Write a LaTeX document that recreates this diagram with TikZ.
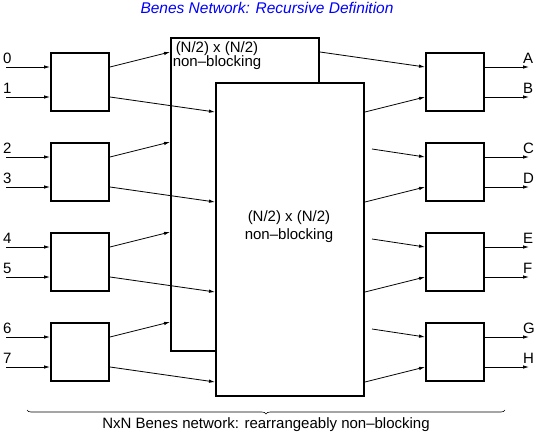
\documentclass[tikz,border=0pt]{standalone}
\usepackage{fontspec}
\setmainfont{Liberation Sans}
\usetikzlibrary{arrows.meta,decorations.pathreplacing,calc}
\begin{document}
\begin{tikzpicture}[x=1pt,y=-1pt,
  sw/.style={draw,line width=2pt,minimum width=58pt,minimum height=58pt,inner sep=0pt,anchor=north west,fill=white},
  big/.style={draw,line width=2pt,minimum width=148pt,minimum height=313pt,inner sep=0pt,anchor=north west,fill=white},
  conn/.style={line width=0.8pt,-{Latex[length=6pt,width=3.5pt]}},
  lbl/.style={font=\fontsize{15}{17}\selectfont,inner sep=0pt,anchor=base west},
  txt/.style={font=\fontsize{15}{17}\selectfont,inner sep=0pt,anchor=base}
]
\useasboundingbox (0,0) rectangle (535,434);
% title
\node[font=\fontsize{15.5}{18}\selectfont\itshape,text=blue,inner sep=0pt] (title) at (267,8) {Benes Network: Recursive Definition};
% back and front sub-networks
\node[big] (back) at (170,37) {};
\node[txt] (bt1) at (217,52) {(N/2) x (N/2)};
\node[txt] (bt2) at (217,66) {non\textendash blocking};
\node[big] (front) at (215,82) {};
\node[txt] (ft1) at (289,221) {(N/2) x (N/2)};
\node[txt] (ft2) at (289,239) {non\textendash blocking};
% switches
\foreach \i/\y in {1/52,2/142,3/232,4/322}{
  \node[sw] (L\i) at (50,\y) {};
  \node[sw] (R\i) at (425,\y) {};
}
% inputs
\foreach \i/\a/\b in {1/0/1,2/2/3,3/4/5,4/6/7}{
  \coordinate (ia\i) at ($(L\i.east)+(-104,-15)$);
  \coordinate (ib\i) at ($(L\i.east)+(-104,15)$);
  \draw[conn] (ia\i) -- ($(L\i.west)+(0,-15)$);
  \draw[conn] (ib\i) -- ($(L\i.west)+(0,15)$);
  \node[lbl] (la\i) at ($(ia\i)+(-3,-4)$) {\a};
  \node[lbl] (lb\i) at ($(ib\i)+(-3,-4)$) {\b};
  % left switch outputs
  \draw[conn] ($(L\i.east)+(0,-15)$) -- (back.west |- L\i.north);
  \draw[conn] ($(L\i.east)+(0,15)$) -- (front.west |- L\i.south);
  % right switch inputs from bottom network
  \draw[conn] (front.east |- R\i.south) -- ($(R\i.west)+(0,15)$);
  % outputs
  \coordinate (oa\i) at ($(R\i.east)+(44,-15)$);
  \coordinate (ob\i) at ($(R\i.east)+(44,15)$);
  \draw[conn] ($(R\i.east)+(0,-15)$) -- (oa\i);
  \draw[conn] ($(R\i.east)+(0,15)$) -- (ob\i);
}
\node[lbl] (oA) at ($(oa1)+(-6,-4)$) {A};
\node[lbl] (oB) at ($(ob1)+(-6,-4)$) {B};
\node[lbl] (oC) at ($(oa2)+(-6,-4)$) {C};
\node[lbl] (oD) at ($(ob2)+(-6,-4)$) {D};
\node[lbl] (oE) at ($(oa3)+(-6,-4)$) {E};
\node[lbl] (oF) at ($(ob3)+(-6,-4)$) {F};
\node[lbl] (oG) at ($(oa4)+(-6,-4)$) {G};
\node[lbl] (oH) at ($(ob4)+(-6,-4)$) {H};
% right switch inputs from top network
\draw[conn] (back.east |- R1.north) -- ($(R1.west)+(0,-15)$);
\coordinate (h2) at (372,149);
\coordinate (h3) at (372,239);
\coordinate (h4) at (372,329);
\draw[conn] (h2) -- ($(R2.west)+(0,-15)$);
\draw[conn] (h3) -- ($(R3.west)+(0,-15)$);
\draw[conn] (h4) -- ($(R4.west)+(0,-15)$);
% brace
\coordinate (bl) at (27,410);
\coordinate (br) at (505,410);
\draw[line width=0.6pt,decorate,decoration={brace,amplitude=4pt,mirror}] (bl) -- (br);
\node[font=\fontsize{15}{17}\selectfont,inner sep=0pt] (cap) at (266,425) {NxN Benes network: rearrangeably non\textendash blocking};
\end{tikzpicture}
\end{document}
